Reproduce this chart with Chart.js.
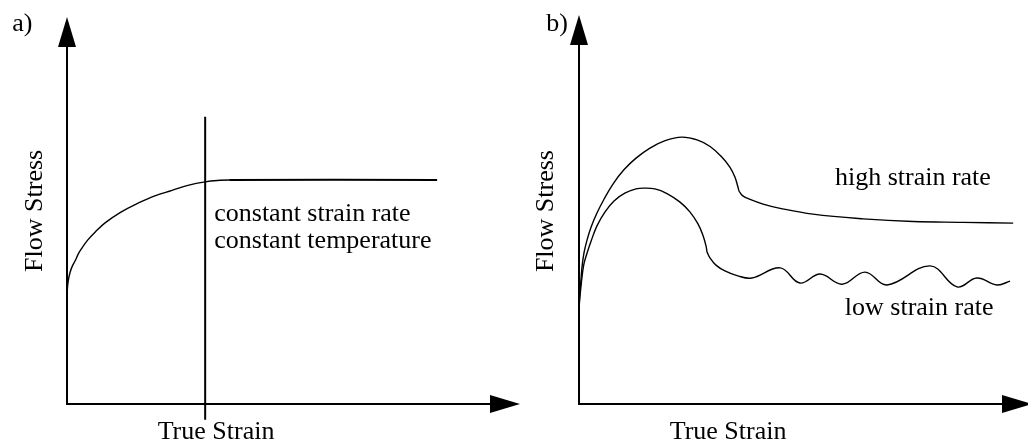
<!DOCTYPE html>
<html lang="en">
<head>
    <meta charset="UTF-8">
    <title>Flow Stress vs True Strain</title>
    <script src="https://cdn.jsdelivr.net/npm/chart.js"></script>
    <style>
        body { margin: 0; background: #fff; }
        #wrap { position: relative; width: 1028px; height: 447px; overflow: hidden; }
        canvas { position: absolute; top: 0; }
        #chartA { left: 0; }
        #chartB { left: 500px; }
    </style>
</head>
<body>
    <div id="wrap">
        <canvas id="chartA" width="530" height="447"></canvas>
        <canvas id="chartB" width="528" height="447"></canvas>
    </div>

    <script>
        // panel a) - single curve, constant strain rate / temperature
        const strainA = [0, 0.1, 0.3, 0.7, 1.2, 1.8, 2.5, 3.3, 4.6, 6.2, 8.4, 11.9, 15.7, 19.4, 23.2, 26.7, 30.5, 33.8, 35.8, 81.7];
        const stressA = [27.6, 30.0, 32.0, 34.1, 35.7, 37.0, 38.8, 40.3, 42.4, 44.4, 46.8, 49.6, 51.9, 53.8, 55.2, 56.5, 57.4, 57.8, 57.9, 57.9];
        const markerStrain = [30.5, 30.5];
        const markerStress = [-4.1, 74.2];

        // panel b) - high strain rate: hump up to the kink, then the tail
        const strainHighPeak = [0, 0.1, 0.4, 0.7, 1.1, 1.8, 2.7, 4.0, 5.6, 7.6, 10.0, 12.7, 15.8, 19.2, 22.9, 26.3, 29.2, 31.8, 33.6, 34.7, 35.4, 35.6];
        const stressHighPeak = [22.1, 26.7, 31.4, 35.5, 38.8, 42.2, 45.5, 49.1, 52.7, 56.6, 60.2, 63.2, 65.8, 67.7, 68.6, 67.9, 66.2, 63.5, 60.9, 58.4, 55.8, 54.8];
        const strainHighTail = [35.6, 36.5, 38.1, 41.0, 44.8, 52.1, 63.3, 74.4, 85.5, 96.7];
        const stressHighTail = [54.8, 53.5, 52.6, 51.4, 50.3, 48.8, 47.6, 46.9, 46.7, 46.5];

        // low strain rate: hump, then the oscillating tail
        const strainLowPeak = [0, 0.1, 0.4, 0.7, 1.1, 1.8, 2.7, 4.0, 5.8, 7.8, 10.2, 12.7, 14.3, 16.9, 19.6, 22.5, 24.7, 26.5, 27.6, 28.3, 28.5];
        const stressLowPeak = [22.1, 26.2, 29.8, 32.9, 36.0, 38.8, 41.9, 45.8, 49.4, 52.2, 54.2, 55.3, 55.5, 55.3, 54.1, 51.9, 49.4, 46.3, 43.4, 40.6, 39.1];
        const strainLowTail = [28.5, 29.2, 30.5, 32.5, 35.2, 38.5, 44.8, 49.2, 53.7, 58.6, 63.7, 68.6, 78.2, 84.2, 88.6, 93.1, 96.0];
        const stressLowTail = [39.1, 37.5, 35.7, 34.2, 33.0, 32.4, 35.0, 31.1, 33.4, 30.8, 33.9, 30.6, 35.5, 30.1, 32.4, 30.6, 31.6];

        const axisTitleX = 'True Strain';
        const axisTitleY = 'Flow Stress';
        const panelTags = ['a)', 'b)'];
        const notesA = ['constant strain rate', 'constant temperature'];
        const notesB = ['high strain rate', 'low strain rate'];

        const FONT = '26px "Liberation Serif", "Times New Roman", serif';

        function pts(xs, ys) {
            return xs.map((x, i) => ({ x: x, y: ys[i] }));
        }

        // axes with arrowheads + free text, placed through the chart scales
        const sketchPlugin = {
            id: 'sketch',
            afterDraw(chart, args, opts) {
                const ctx = chart.ctx;
                const a = chart.chartArea;
                const sx = chart.scales.x, sy = chart.scales.y;
                ctx.save();
                ctx.strokeStyle = '#000';
                ctx.fillStyle = '#000';
                ctx.lineWidth = 2;
                ctx.beginPath();
                ctx.moveTo(a.left, a.top + 20);
                ctx.lineTo(a.left, a.bottom);
                ctx.lineTo(a.right + opts.over - 20, a.bottom);
                ctx.stroke();
                // y arrow
                ctx.beginPath();
                ctx.moveTo(a.left, a.top);
                ctx.lineTo(a.left - 9, a.top + 30);
                ctx.lineTo(a.left + 9, a.top + 30);
                ctx.closePath();
                ctx.fill();
                // x arrow
                const tip = a.right + opts.over;
                ctx.beginPath();
                ctx.moveTo(tip, a.bottom);
                ctx.lineTo(tip - 30, a.bottom - 9);
                ctx.lineTo(tip - 30, a.bottom + 9);
                ctx.closePath();
                ctx.fill();

                ctx.font = FONT;
                ctx.textBaseline = 'alphabetic';
                opts.labels.forEach(l => {
                    const px = sx.getPixelForValue(l.x);
                    const py = sy.getPixelForValue(l.y);
                    ctx.save();
                    ctx.translate(px, py);
                    if (l.rotate) ctx.rotate(-Math.PI / 2);
                    ctx.textAlign = l.align || 'left';
                    ctx.fillText(l.text, 0, 0);
                    ctx.restore();
                });
                ctx.restore();
            }
        };

        function lineSet(data, extra) {
            return Object.assign({
                data: data,
                borderColor: '#000',
                borderWidth: 1.4,
                pointRadius: 0,
                fill: false,
                tension: 0.4
            }, extra || {});
        }

        function makeChart(id, datasets, padding, labels, over) {
            return new Chart(document.getElementById(id), {
                type: 'line',
                data: { datasets: datasets },
                options: {
                    responsive: false,
                    animation: false,
                    layout: { padding: padding },
                    plugins: {
                        legend: { display: false },
                        tooltip: { enabled: false },
                        sketch: { labels: labels, over: over }
                    },
                    scales: {
                        x: { type: 'linear', min: 0, max: 100, display: false },
                        y: { type: 'linear', min: 0, max: 100, display: false }
                    }
                },
                plugins: [sketchPlugin]
            });
        }

        makeChart('chartA', [
            lineSet(pts(strainA, stressA), {
                segment: { borderWidth: c => c.p0DataIndex >= strainA.length - 2 ? 2 : 1.4 }
            }),
            lineSet(pts(markerStrain, markerStress), { borderWidth: 2, tension: 0, clip: false })
        ], { left: 67, top: 17, right: 10, bottom: 43 }, [
            { text: panelTags[0], x: -12.1, y: 96.4 },
            { text: notesA[0], x: 32.5, y: 47.3 },
            { text: notesA[1], x: 32.5, y: 40.3 },
            { text: axisTitleX, x: 32.9, y: -9.0, align: 'center' },
            { text: axisTitleY, x: -5.5, y: 49.9, align: 'center', rotate: true }
        ], 0);

        makeChart('chartB', [
            lineSet(pts(strainHighPeak, stressHighPeak)),
            lineSet(pts(strainHighTail, stressHighTail)),
            lineSet(pts(strainLowPeak, stressLowPeak)),
            lineSet(pts(strainLowTail, stressLowTail))
        ], { left: 79, top: 15, right: 0, bottom: 43 }, [
            { text: panelTags[1], x: -7.3, y: 95.9 },
            { text: notesB[0], x: 57.0, y: 56.3 },
            { text: notesB[1], x: 59.2, y: 22.9 },
            { text: axisTitleX, x: 33.2, y: -9.0, align: 'center' },
            { text: axisTitleY, x: -5.8, y: 49.6, align: 'center', rotate: true }
        ], 4);
    </script>
</body>
</html>
